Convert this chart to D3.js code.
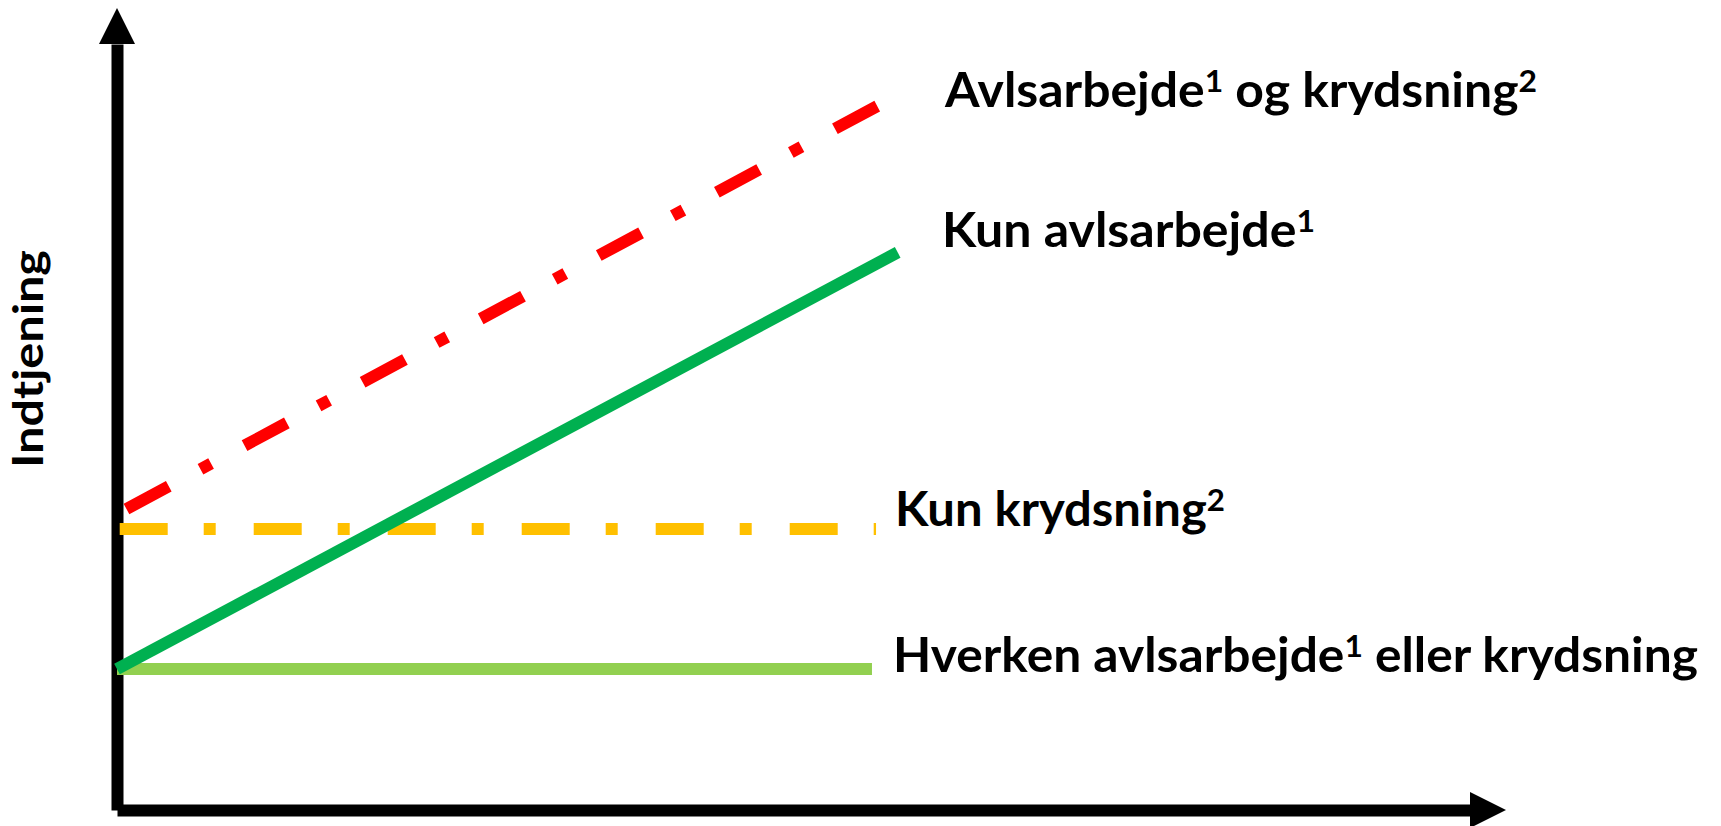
<!DOCTYPE html>
<html>
<head>
<meta charset="utf-8">
<script src="https://cdn.jsdelivr.net/npm/d3@7"></script>
<style>
  html, body { margin: 0; padding: 0; background: #fff; }
  text { font-family: Lato, "Open Sans", sans-serif; font-weight: 700; fill: #000; }
</style>
</head>
<body>
<svg id="chart"></svg>
<script>
// series (x: 0-100 along the axis, y: 0-100 "Indtjening")
var series = ["Hverken", "Kun krydsning", "Avlsarbejde og krydsning", "Kun avlsarbejde"];
var xStart = [0, 0.2, 0.7, 0];
var xEnd = [55.8, 56.1, 56.2, 57.7];
var yStart = [18.4, 36.7, 39.3, 18.4];
var yEnd = [18.4, 36.7, 91.9, 72.8];
var colors = ["#92D050", "#FFC000", "#FF0000", "#00B050"];
var dashes = [null, "48 36 12 38", "48 36 12 38", null];

// label parts: [text, superscript]
var labels = [
  [["Avlsarbejde", "1"], [" og krydsning", "2"]],
  [["Kun avlsarbejde", "1"]],
  [["Kun krydsning", "2"]],
  [["Hverken avlsarbejde", "1"], [" eller krydsning", ""]]
];
var yTitle = "Indtjening";

var cfg = { width: 1721, height: 826, left: 117, bottom: 810, top: 44, right: 1470, lineWidth: 12 };

var svg = d3.select("#chart")
  .attr("width", cfg.width)
  .attr("height", cfg.height);

var x = d3.scaleLinear()
  .domain([0, 100])
  .range([cfg.left, cfg.right]);

var y = d3.scaleLinear()
  .domain([0, 100])
  .range([cfg.bottom, cfg.top]);

// axes without ticks, thick black shafts
svg.append("g")
  .attr("transform", "translate(" + cfg.left + ",0)")
  .call(d3.axisLeft(y).tickValues([]).tickSizeOuter(0));
svg.append("g")
  .attr("transform", "translate(0," + cfg.bottom + ")")
  .call(d3.axisBottom(x).tickValues([]).tickSizeOuter(0));
svg.selectAll(".domain")
  .attr("stroke", "#000")
  .attr("stroke-width", cfg.lineWidth);

// arrow heads
var head = 36;
svg.append("path")
  .attr("d", "M" + (cfg.left - head / 2) + "," + y(100) + "L" + (cfg.left + head / 2) + "," + y(100) + "L" + cfg.left + "," + (y(100) - head) + "Z")
  .attr("fill", "#000");
svg.append("path")
  .attr("d", "M" + x(100) + "," + (cfg.bottom - head / 2) + "L" + x(100) + "," + (cfg.bottom + head / 2) + "L" + (x(100) + head) + "," + cfg.bottom + "Z")
  .attr("fill", "#000");

// lines
var line = d3.line()
  .x(function(d) { return x(d[0]); })
  .y(function(d) { return y(d[1]); });

svg.selectAll(".series")
  .data(series)
  .enter().append("path")
  .attr("class", "series")
  .attr("d", function(d, i) { return line([[xStart[i], yStart[i]], [xEnd[i], yEnd[i]]]); })
  .attr("fill", "none")
  .attr("stroke", function(d, i) { return colors[i]; })
  .attr("stroke-width", cfg.lineWidth)
  .attr("stroke-linecap", "butt")
  .attr("stroke-dasharray", function(d, i) { return dashes[i]; });

// labels next to the lines
var labelPos = [[945, 107, 592], [942, 247, 373], [895, 526, 330], [893, 672, 805]];
var supShift = 15;
var lbl = svg.selectAll(".lbl")
  .data(labels)
  .enter().append("text")
  .attr("class", "lbl")
  .attr("x", function(d, i) { return labelPos[i][0]; })
  .attr("y", function(d, i) { return labelPos[i][1]; })
  .attr("textLength", function(d, i) { return labelPos[i][2]; })
  .attr("lengthAdjust", "spacingAndGlyphs")
  .style("font-size", "47px");

lbl.each(function(parts) {
  var t = d3.select(this);
  var raised = false;
  parts.forEach(function(p) {
    t.append("tspan").attr("dy", raised ? supShift : 0).text(p[0]);
    raised = false;
    if (p[1]) {
      t.append("tspan").attr("dy", -supShift).style("font-size", "30px").text(p[1]);
      raised = true;
    }
  });
});

svg.append("text")
  .attr("transform", "translate(43,359) rotate(-90)")
  .attr("text-anchor", "middle")
  .attr("textLength", 218)
  .attr("lengthAdjust", "spacingAndGlyphs")
  .style("font-size", "42px")
  .text(yTitle);
</script>
</body>
</html>
